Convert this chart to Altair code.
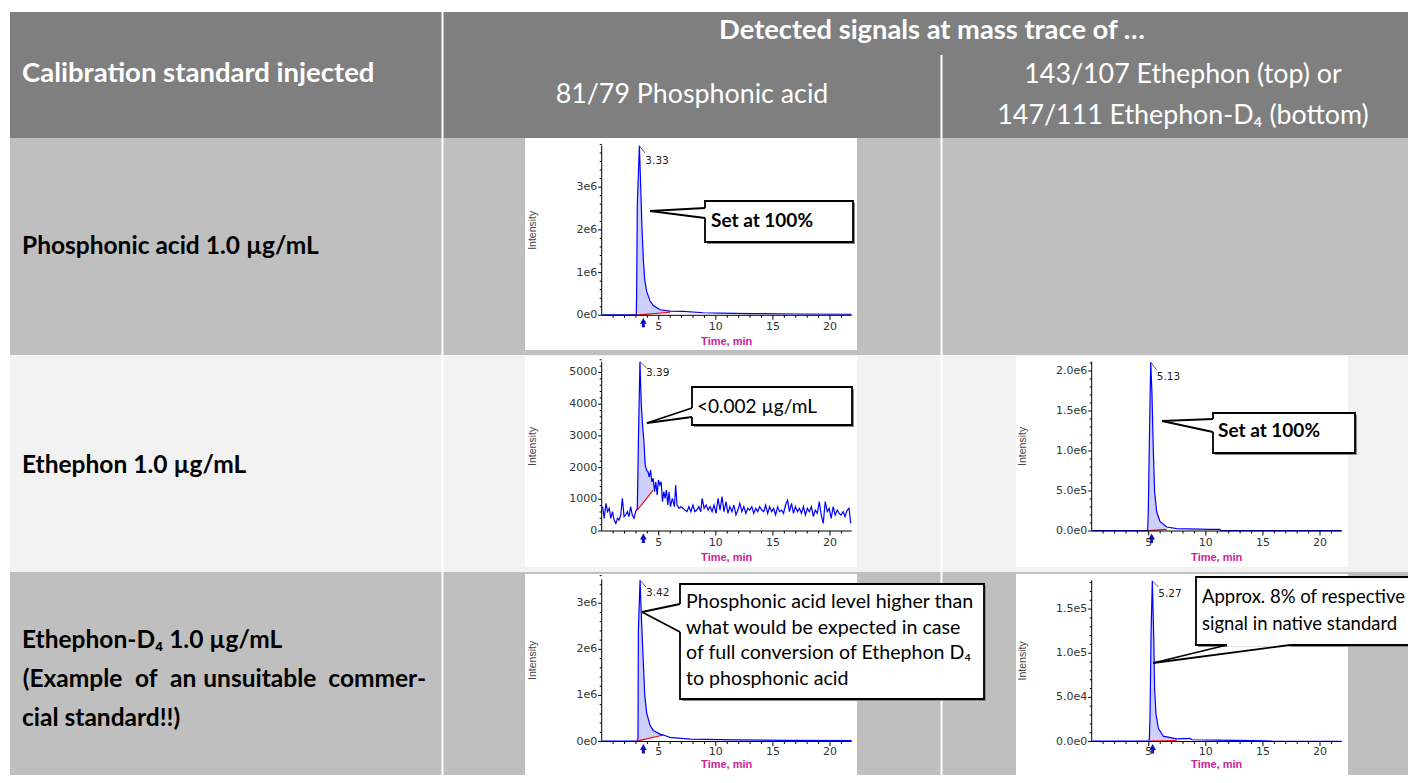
import altair as alt
import pandas as pd

# ---------------- chart values ----------------
# Panel 1: mass trace 81/79 (phosphonic acid), phosphonic acid standard
p1_time = [0.05, 3.03, 3.06, 3.12, 3.30, 3.42, 3.53, 3.65, 3.77, 3.94, 4.23, 4.52, 5.11, 5.98,
           7.15, 8.90, 10.36, 13.0, 17.0, 21.89]
p1_int = [0.01e6, 0.01e6, 0.52e6, 2.59e6, 3.97e6, 2.99e6, 2.04e6, 1.30e6, 0.83e6, 0.56e6,
          0.34e6, 0.23e6, 0.13e6, 0.10e6, 0.09e6, 0.06e6, 0.05e6, 0.04e6, 0.03e6, 0.025e6]

# Panel 2: mass trace 81/79, ethephon standard (noisy)
p2_time = [0.08, 0.22, 0.37, 0.51, 0.66, 0.80, 0.95, 1.09, 1.24, 1.38, 1.52, 1.67, 1.81, 1.96,
           2.10, 2.25, 2.39, 2.54, 2.68, 2.83, 2.97, 3.12, 3.23, 3.35, 3.47, 3.58, 3.70, 3.81,
           3.93, 4.05, 4.16, 4.28, 4.39, 4.51, 4.63, 4.74, 4.86, 4.97, 5.09, 5.21, 5.32, 5.44,
           5.55, 5.67, 5.79, 5.90, 6.02, 6.19, 6.37, 6.48, 6.60, 6.77, 6.94, 7.12, 7.29, 7.47,
           7.64, 7.81, 7.99, 8.16, 8.33, 8.51, 8.68, 8.80, 8.97, 9.15, 9.32, 9.50, 9.67, 9.84,
           10.02, 10.19, 10.37, 10.54, 10.71, 10.89, 11.06, 11.23, 11.41, 11.58, 11.76, 11.93,
           12.10, 12.28, 12.45, 12.63, 12.80, 12.97, 13.15, 13.32, 13.50, 13.67, 13.84, 14.02,
           14.19, 14.36, 14.54, 14.71, 14.89, 15.06, 15.23, 15.41, 15.58, 15.76, 15.93, 16.10,
           16.28, 16.45, 16.63, 16.80, 16.97, 17.15, 17.32, 17.50, 17.67, 17.84, 18.02, 18.19,
           18.37, 18.54, 18.71, 18.89, 19.06, 19.23, 19.41, 19.58, 19.76, 19.93, 20.10, 20.28,
           20.45, 20.63, 20.80, 20.97, 21.15, 21.32, 21.50, 21.67, 21.81]
p2_int = [767, 400, 872, 610, 715, 400, 610, 347, 242, 400, 347, 505, 1030, 452, 505, 610, 452,
          767, 505, 400, 610,
          715, 3130, 5340, 3970, 3340, 2815, 2080, 1920, 1870,
          1710, 1920, 1555, 1660, 1240, 1555, 1135, 1610, 1450, 1555,
          925, 1240, 1030, 1290, 820, 1240, 767,
          1030, 767, 1450,
          820, 715, 767, 715, 660, 610,
          767, 610, 820, 610,
          660, 767, 610, 1030, 715, 820, 660, 767, 610, 820,
          557, 1030, 660, 1083, 610, 925, 557, 767, 610, 820,
          505, 660, 872, 610, 767, 557, 715, 660, 767, 557,
          715, 610, 767, 660, 610, 820, 557, 767, 610, 715,
          505, 767, 610, 660, 557, 820, 975, 610, 872, 557,
          767, 610, 715, 557, 767, 505, 715, 610, 767, 452,
          660, 557, 925, 505, 242, 925, 610, 715, 400, 767,
          505, 660, 557, 505, 610, 452, 660, 715, 242]

# Panel 3: mass trace 81/79, ethephon-D4 standard
p3_time = [0.05, 3.10, 3.18, 3.21, 3.36, 3.50, 3.65, 3.77, 3.94, 4.23, 4.52, 5.11, 5.40, 5.98,
           7.73, 11.82, 16.0, 21.89]
p3_int = [0.01e6, 0.015e6, 0.05e6, 2.39e6, 3.50e6, 2.56e6, 1.70e6, 1.00e6, 0.62e6, 0.35e6,
          0.24e6, 0.16e6, 0.14e6, 0.09e6, 0.05e6, 0.035e6, 0.025e6, 0.02e6]

# Panel 4: mass trace 143/107 (ethephon), ethephon standard
p4_time = [0.05, 4.90, 4.96, 5.05, 5.17, 5.28, 5.40, 5.51, 5.69, 5.98, 6.57, 7.44, 10.36, 11.23,
           11.30, 21.89]
p4_int = [0.005e6, 0.005e6, 0.26e6, 1.10e6, 2.11e6, 1.72e6, 0.99e6, 0.49e6, 0.24e6, 0.12e6,
          0.05e6, 0.03e6, 0.02e6, 0.02e6, 0.004e6, 0.004e6]

# Panel 5: mass trace 147/111 (ethephon-D4), ethephon-D4 standard
p5_time = [0.05, 4.98, 5.05, 5.11, 5.20, 5.31, 5.43, 5.51, 5.63, 5.84, 6.27, 7.44, 8.61, 8.80,
           11.0, 14.0, 15.2, 16.0, 21.89]
p5_int = [500, 500, 3000, 29000, 122000, 182000, 120000, 60000, 31000, 15000, 6000, 3000, 3500,
          2000, 1500, 900, 700, 300, 300]

# peak annotations
peak_rt_labels = ["3.33", "3.39", "3.42", "5.13", "5.27"]
peak_apex_time = [3.30, 3.35, 3.36, 5.17, 5.31]
peak_apex_int = [3.97e6, 5340, 3.50e6, 2.11e6, 182000]
arrow_time = [3.65, 3.65, 3.65, 5.25, 5.34]
# integration window (start, end) and baseline (start, end)
int_window = [(3.03, 5.98), (3.12, 4.51), (3.18, 5.40), (4.96, 6.57), (5.05, 7.44)]
int_base = [(0.005e6, 0.07e6), (660, 1290), (0.014e6, 0.14e6), (0.005e6, 0.02e6), (500, 1000)]

# axis ticks
x_range = [0, 21.9]
x_ticks = [5, 10, 15, 20]
x_tick_labels = ["5", "10", "15", "20"]
x_minor = [m for m in range(1, 22) if m % 5]
y_ticks = [[0, 1e6, 2e6, 3e6], [0, 1000, 2000, 3000, 4000, 5000], [0, 1e6, 2e6, 3e6],
           [0, 5e5, 1e6, 1.5e6, 2e6], [0, 5e4, 1e5, 1.5e5]]
y_tick_labels = [["0e0", "1e6", "2e6", "3e6"], ["0", "1000", "2000", "3000", "4000", "5000"],
                 ["0e0", "1e6", "2e6", "3e6"], ["0.0e0", "5.0e5", "1.0e6", "1.5e6", "2.0e6"],
                 ["0.0e0", "5.0e4", "1.0e5", "1.5e5"]]
y_minor_step = [2e5, 200, 2e5, 1e5, 1e4]
y_max = [3.98e6, 5340, 3.52e6, 2.116e6, 1.826e5]

# texts
header_texts = ["Calibration standard injected", "Detected signals at mass trace of \u2026"]
col_texts = ["81/79 Phosphonic acid", "143/107 Ethephon (top) or", "147/111 Ethephon-D\u2084 (bottom)"]
row_texts = ["Phosphonic acid 1.0 \u00b5g/mL", "Ethephon 1.0 \u00b5g/mL", "Ethephon-D\u2084 1.0 \u00b5g/mL",
             "cial standard!!)"]
row_justified_words = ["(Example", "of", "an", "unsuitable", "commer-"]
callout_bold = ["Set at 100%", "Set at 100%"]
callout_c2 = ["<0.002 \u00b5g/mL"]
callout_c3 = ["Phosphonic acid level higher than", "what would be expected in case",
              "of full conversion of Ethephon D\u2084", "to phosphonic acid"]
callout_c5 = ["Approx. 8% of respective", "signal in native standard"]

# ---------------- layout (reference pixel positions) ----------------
W, H = 1400, 767
OFF = 8


def cx(v):
    return v - OFF


def cy(v):
    return v - OFF


TFONT = "Lato"
AFONT = "DejaVu Sans"


def px_text(xs, ys, texts, **kw):
    df = pd.DataFrame({"x": [cx(v) for v in xs], "y": [cy(v) for v in ys], "text": texts})
    return alt.Chart(df).mark_text(**kw).encode(
        x=alt.X("x:Q", scale=None, axis=None),
        y=alt.Y("y:Q", scale=None, axis=None),
        text="text:N")


def px_rect(boxes, colors, **kw):
    df = pd.DataFrame({"x": [cx(b[0]) for b in boxes], "y": [cy(b[1]) for b in boxes],
                       "x2": [cx(b[2]) for b in boxes], "y2": [cy(b[3]) for b in boxes],
                       "c": colors})
    return alt.Chart(df).mark_rect(**kw).encode(
        x=alt.X("x:Q", scale=None, axis=None), x2="x2:Q",
        y=alt.Y("y:Q", scale=None, axis=None), y2="y2:Q",
        color=alt.Color("c:N", scale=None))


def px_rule(segs, **kw):
    df = pd.DataFrame({"x": [cx(s[0]) for s in segs], "y": [cy(s[1]) for s in segs],
                       "x2": [cx(s[2]) for s in segs], "y2": [cy(s[3]) for s in segs]})
    return alt.Chart(df).mark_rule(**kw).encode(
        x=alt.X("x:Q", scale=None, axis=None), x2="x2:Q",
        y=alt.Y("y:Q", scale=None, axis=None), y2="y2:Q")


# table background
bg = px_rect(
    [(10, 12, 1416, 138), (10, 138, 1416, 355), (10, 355, 1416, 572), (10, 572, 1416, 783),
     (441.5, 12, 443.5, 783), (940.5, 55, 942.5, 783),
     (525, 138, 857, 350), (525, 356, 857, 567), (525, 574, 857, 783),
     (1016, 356, 1348, 567), (1016, 574, 1348, 783)],
    ["#7f7f7f", "#bfbfbf", "#f2f2f2", "#bfbfbf",
     "#ffffff", "#ffffff",
     "#ffffff", "#ffffff", "#ffffff", "#ffffff", "#ffffff"])

hdr_bold = px_text([22], [74], header_texts[:1], font=TFONT, fontSize=27.5, fontWeight="bold",
                   color="white", align="left", baseline="middle")
hdr_bold2 = px_text([932], [31], header_texts[1:], font=TFONT, fontSize=27.3, fontWeight="bold",
                    color="white", align="center", baseline="middle")
col_hdr = px_text([692, 1183, 1183], [95, 75, 116], col_texts, font=TFONT, fontSize=26.8,
                  color="white", align="center", baseline="middle")
row_lbl = px_text([22, 22, 22, 22], [247, 466, 641, 719], row_texts, font=TFONT,
                  fontSize=24.5, fontWeight="bold", color="black", align="left", baseline="middle")
row_just = px_text([22.7, 135, 170, 203.3, 328.3], [680] * 5, row_justified_words, font=TFONT,
                   fontSize=24.5, fontWeight="bold", color="black", align="left", baseline="middle")

# ---------------- chromatogram panels ----------------
panel_pos = [  # axis x, axis y, top y (reference px)
    (601.7, 315.3, 145.3), (601.7, 531.0, 361.7), (601.7, 741.5, 579.3),
    (1091.7, 531.0, 361.7), (1091.7, 741.5, 580.3)]
label_off = [11.5, 11.5, 10.5, 11.5, 10.5]
title_off = [26.7, 26.7, 23.5, 26.7, 23.5]
leader_end = [(645, 153), (646.7, 368), (646, 587), (1156.7, 370), (1158.3, 587)]
label_dy = [15, 11, 13, 14.5, 13]
series = [(p1_time, p1_int), (p2_time, p2_int), (p3_time, p3_int), (p4_time, p4_int),
          (p5_time, p5_int)]

AX_COLOR = "#000000"
LBL_COLOR = "#333333"


def panel(k):
    ax_x, ax_y, top_y = panel_pos[k]
    t, inten = series[k]
    xs = alt.Scale(domain=x_range, range=[cx(ax_x), cx(ax_x) + 250], nice=False, zero=False)
    ys = alt.Scale(domain=[0, y_max[k]], range=[cy(ax_y), cy(top_y)], nice=False, zero=False)

    def X(f):
        return alt.X(f, scale=xs, axis=None)

    def Y(f):
        return alt.Y(f, scale=ys, axis=None)

    df = pd.DataFrame({"t": t, "i": inten})
    (t0, t1), (b0, b1) = int_window[k], int_base[k]
    area = alt.Chart(df).transform_filter(
        f"datum.t >= {t0} && datum.t <= {t1}"
    ).transform_calculate(
        b=f"{b0} + ({b1} - {b0}) * (datum.t - {t0}) / ({t1} - {t0})"
    ).mark_area(color="#3a3aff", opacity=0.25).encode(x=X("t:Q"), y=Y("i:Q"), y2="b:Q")
    base = alt.Chart(pd.DataFrame({"t": [t0, t1], "i": [b0, b1]})).mark_line(
        color="#ff0000", strokeWidth=1.1).encode(x=X("t:Q"), y=Y("i:Q"))
    line = alt.Chart(df).mark_line(color="#0000ff", strokeWidth=1.2).encode(
        x=X("t:Q"), y=Y("i:Q"))

    # axes drawn through the panel scales
    dom = pd.DataFrame({"t0": [x_range[0]], "t1": [x_range[1]], "i0": [0], "i1": [y_max[k]]})
    x_dom = alt.Chart(dom).mark_rule(color=AX_COLOR, strokeWidth=1).encode(
        x=X("t0:Q"), x2="t1:Q", y=Y("i0:Q"))
    y_dom = alt.Chart(dom).mark_rule(color=AX_COLOR, strokeWidth=1).encode(
        x=X("t0:Q"), y=Y("i0:Q"), y2="i1:Q")
    xt = pd.DataFrame({"t": x_ticks, "lbl": x_tick_labels})
    x_maj = alt.Chart(xt).mark_rule(color=AX_COLOR, strokeWidth=1).encode(
        x=X("t:Q"), y=alt.value(cy(ax_y)), y2=alt.value(cy(ax_y) + 4.5))
    x_lab = alt.Chart(xt).mark_text(font=AFONT, fontSize=11, color=LBL_COLOR, align="center",
                                    baseline="middle").encode(
        x=X("t:Q"), y=alt.value(cy(ax_y) + label_off[k]), text="lbl:N")
    x_min = alt.Chart(pd.DataFrame({"t": x_minor})).mark_rule(color=AX_COLOR, strokeWidth=1).encode(
        x=X("t:Q"), y=alt.value(cy(ax_y)), y2=alt.value(cy(ax_y) + 2.5))
    x_title = alt.Chart(pd.DataFrame({"t": [sum(x_range) / 2], "lbl": ["Time, min"]})).mark_text(
        font="Liberation Sans", fontSize=11, fontWeight="bold", color="#cc2299", align="center",
        baseline="middle").encode(x=X("t:Q"), y=alt.value(cy(ax_y) + title_off[k]), text="lbl:N")

    yt = pd.DataFrame({"v": y_ticks[k], "lbl": y_tick_labels[k]})
    y_maj = alt.Chart(yt).mark_rule(color=AX_COLOR, strokeWidth=1).encode(
        y=Y("v:Q"), x=alt.value(cx(ax_x) - 3.5), x2=alt.value(cx(ax_x)))
    y_lab = alt.Chart(yt).mark_text(font=AFONT, fontSize=11, color=LBL_COLOR, align="right",
                                    baseline="middle").encode(
        y=Y("v:Q"), x=alt.value(cx(ax_x) - 4.5), text="lbl:N")
    step = y_minor_step[k]
    nmin = int(round(y_max[k] / step))
    ymin_vals = [j * step for j in range(1, nmin + 1) if j * step not in y_ticks[k]]
    y_min = alt.Chart(pd.DataFrame({"v": ymin_vals})).mark_rule(color=AX_COLOR, strokeWidth=1).encode(
        y=Y("v:Q"), x=alt.value(cx(ax_x) - 2), x2=alt.value(cx(ax_x)))
    y_title = alt.Chart(pd.DataFrame({"v": [y_max[k] / 2], "lbl": ["Intensity"]})).mark_text(
        font="Liberation Sans", fontSize=10.5, color="#444444", align="center",
        baseline="middle", angle=270).encode(
        y=Y("v:Q"), x=alt.value(cx(ax_x) - 68.4), text="lbl:N")

    adf = pd.DataFrame({"t": [arrow_time[k]]})
    arrow_head = alt.Chart(adf).mark_point(shape="triangle-up", filled=True, size=45,
                                           color="#1010b0", opacity=1).encode(
        x=X("t:Q"), y=alt.value(cy(ax_y) + 5.5))
    arrow_tail = alt.Chart(adf).mark_rule(color="#1010b0", strokeWidth=3).encode(
        x=X("t:Q"), y=alt.value(cy(ax_y) + 7), y2=alt.value(cy(ax_y) + 12))
    pdf = pd.DataFrame({"t": [peak_apex_time[k]], "i": [peak_apex_int[k]],
                        "lbl": [peak_rt_labels[k]]})
    lx, ly = leader_end[k]
    leader = alt.Chart(pdf).mark_rule(color="#333333", strokeWidth=0.8).encode(
        x=X("t:Q"), y=Y("i:Q"), x2=alt.value(cx(lx)), y2=alt.value(cy(ly)))
    label = alt.Chart(pdf).mark_text(align="left", baseline="middle", dx=6, dy=label_dy[k],
                                     font=AFONT, fontSize=10.5, color="#222222").encode(
        x=X("t:Q"), y=Y("i:Q"), text="lbl:N")
    return alt.layer(area, base, line, x_dom, y_dom, x_maj, x_min, x_lab, x_title,
                     y_maj, y_min, y_lab, y_title, arrow_tail, arrow_head, leader, label)


panels = [panel(k) for k in range(5)]

# ---------------- callouts ----------------
boxes = [(705, 201, 853, 242), (692, 387, 852, 425), (680, 584, 984, 699),
         (1213, 413, 1355, 453), (1196, 577, 1440, 645)]
shadow = px_rect([(b[0] + 2, b[1] + 2, b[2] + 2, b[3] + 2) for b in boxes], ["#8a8a8a"] * 5)
box = px_rect(boxes, ["#ffffff"] * 5, stroke="#000000", strokeWidth=1.8)
gaps = px_rule([(705, 208, 705, 218), (692, 408, 692, 417), (680, 604, 680, 632),
                (1213, 419, 1213, 432), (1227, 645, 1290, 645)],
               color="#ffffff", strokeWidth=3.5)
wedges = px_rule([(650, 211, 705, 208), (650, 211, 705, 218),
                  (647, 423, 692, 408), (647, 423, 692, 417),
                  (642, 612, 680, 604), (642, 612, 680, 632),
                  (1162, 421, 1213, 419), (1162, 421, 1213, 432),
                  (1153, 663, 1227, 645), (1153, 663, 1290, 645)],
                 color="#000000", strokeWidth=1.8)
co_bold = px_text([711, 1218], [221, 431], callout_bold, font=TFONT, fontSize=19,
                  fontWeight="bold", color="black", align="left", baseline="middle")
co_c2 = px_text([697], [406.7], callout_c2, font=TFONT, fontSize=19, color="black",
                align="left", baseline="middle")
co_c3 = px_text([686, 686, 686, 686], [602, 627.5, 653, 678.5], callout_c3, font=TFONT,
                fontSize=19.6, color="black", align="left", baseline="middle")
co_c5 = px_text([1202, 1202], [597, 624], callout_c5, font=TFONT, fontSize=18.5,
                color="black", align="left", baseline="middle")

chart = alt.layer(
    bg, hdr_bold, hdr_bold2, col_hdr, row_lbl, row_just,
    *panels,
    shadow, box, gaps, wedges, co_bold, co_c2, co_c3, co_c5
).resolve_scale(
    x="independent", y="independent"
).properties(
    width=W, height=H, padding=0, background="white",
    autosize=alt.AutoSizeParams(type="none")
).configure_view(stroke=None)

chart.save("out.html", embed_options={"renderer": "svg", "actions": False})
